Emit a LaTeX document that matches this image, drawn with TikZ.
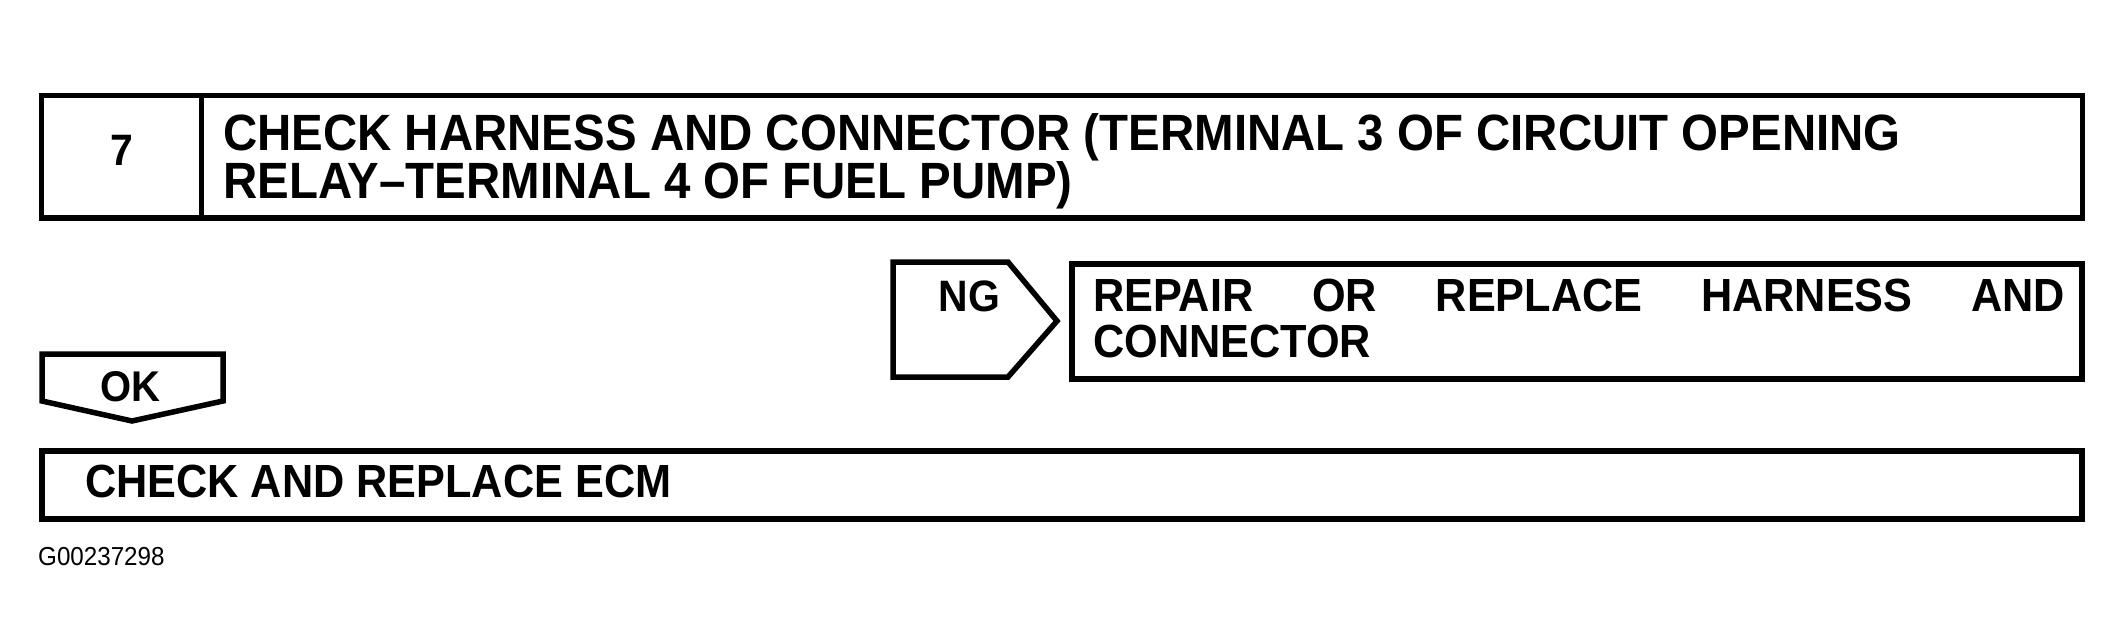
\documentclass[tikz,border=0pt]{standalone}
\usepackage{fontspec}
\setmainfont{Liberation Sans}[FakeStretch=0.93]
\begin{document}
\begin{tikzpicture}[x=1pt,y=-1pt,
  box/.style={draw=black, line width=5.5pt, line join=miter},
  big/.style={font=\fontsize{51}{56}\selectfont\bfseries, inner sep=0pt, anchor=base west},
  mid/.style={font=\fontsize{46.5}{50}\selectfont\bfseries, inner sep=0pt, anchor=base west},
  tag/.style={font=\fontsize{44}{48}\selectfont\bfseries, inner sep=0pt, anchor=base},
  codetext/.style={font=\fontsize{26}{28}\selectfont, inner sep=0pt, anchor=base west}]
\useasboundingbox (0,0) rectangle (2124,642);
\fill[white] (0,0) rectangle (2124,642);
% step 7 box
\draw[box] (41.5,95.5) rectangle (2082.5,218);
\draw[box] (201.5,95.5) -- (201.5,218);
\node[tag] (num) at (122,165) {7};
\node[big] (t1) at (223,150) {CHECK HARNESS AND CONNECTOR (TERMINAL 3 OF CIRCUIT OPENING};
\node[big] (t2) at (223,198) {RELAY–TERMINAL 4 OF FUEL PUMP)};
% NG tag
\draw[box] (893,262) -- (1008,262) -- (1057,321) -- (1008,377) -- (893,377) -- cycle;
\node[tag] (ng) at (969.5,311) {NG};
% repair box
\draw[box] (1072,264) rectangle (2082,379);
\node[mid] (r1) at (1093,311) {\makebox[972pt][s]{REPAIR\hfill OR\hfill REPLACE\hfill HARNESS\hfill AND}};
\node[mid] (r2) at (1093,357) {CONNECTOR};
% OK tag
\draw[box] (42,354) -- (223,354) -- (223,401) -- (132,421) -- (42,401) -- cycle;
\node[font=\fontsize{43}{46}\selectfont\bfseries, inner sep=0pt, anchor=base] (ok) at (130,401) {OK};
% ECM box
\draw[box] (42,451) rectangle (2082,519);
\node[mid] (ecm) at (85,497) {CHECK AND REPLACE ECM};
% figure code
\node[codetext] (code) at (38,565) {G00237298};
\end{tikzpicture}
\end{document}
